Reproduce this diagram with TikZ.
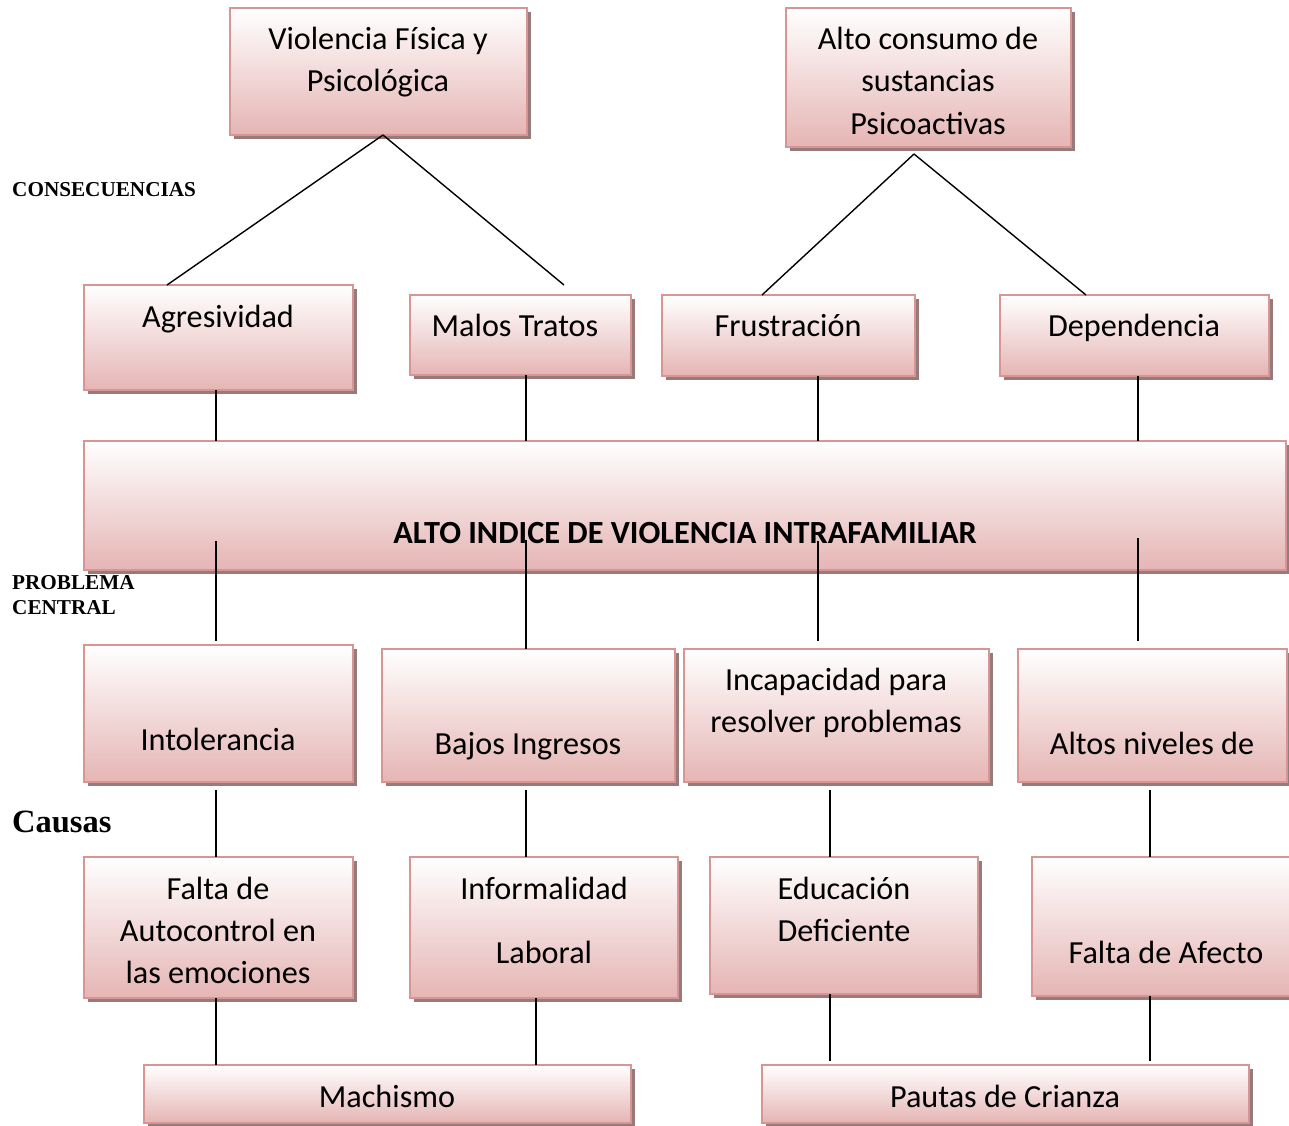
\documentclass[tikz,border=0pt]{standalone}
\usepackage{fontspec}
\setmainfont{Carlito}
\newfontfamily\labfont{Liberation Serif}
\usetikzlibrary{shadows}
\definecolor{boxline}{RGB}{217,149,148}
\definecolor{boxbot}{RGB}{229,181,180}
\definecolor{shadowcol}{RGB}{145,115,115}
\tikzset{
  box/.style={draw=boxline, line width=1.8pt, top color=white, bottom color=boxbot,
    inner sep=0pt, outer sep=0pt, anchor=north west,
    drop shadow={shadow xshift=4pt, shadow yshift=-4pt, fill=shadowcol, opacity=0.95}},
  txt/.style={anchor=base, inner sep=0pt, font=\fontsize{32.2}{42}\selectfont},
  lab/.style={anchor=base west, inner sep=0pt},
  conn/.style={draw=black, line width=1.4pt}
}
\begin{document}
\begin{tikzpicture}[x=1pt,y=-1pt]
\useasboundingbox (0,0) rectangle (1289,1125);
% boxes
\node[box, minimum width=297pt, minimum height=127pt] (viol) at (230,8) {};
\node[box, minimum width=285pt, minimum height=139pt] (alto) at (786,8) {};
\node[box, minimum width=269pt, minimum height=105pt] (agre) at (84,285) {};
\node[box, minimum width=221pt, minimum height=80pt] (malos) at (410,295) {};
\node[box, minimum width=253pt, minimum height=81pt] (frus) at (662,295) {};
\node[box, minimum width=269pt, minimum height=81pt] (dep) at (1000,295) {};
\node[box, minimum width=1202pt, minimum height=129pt] (central) at (84,441) {};
\node[box, minimum width=269pt, minimum height=137pt] (intol) at (84,645) {};
\node[box, minimum width=293pt, minimum height=133pt] (bajos) at (382,649) {};
\node[box, minimum width=305pt, minimum height=133pt] (incap) at (684,649) {};
\node[box, minimum width=269pt, minimum height=133pt] (altos) at (1018,649) {};
\node[box, minimum width=269pt, minimum height=141pt] (falta) at (84,857) {};
\node[box, minimum width=268pt, minimum height=141pt] (infor) at (410,857) {};
\node[box, minimum width=268pt, minimum height=137pt] (edu) at (710,857) {};
\node[box, minimum width=263pt, minimum height=139pt] (afecto) at (1032,857) {};
\node[box, minimum width=487pt, minimum height=58pt] (mach) at (144,1065) {};
\node[box, minimum width=487pt, minimum height=58pt] (paut) at (762,1065) {};
% texts
\node[txt] (t-viol1) at (378,49) {Violencia Física y};
\node[txt] (t-viol2) at (378,91) {Psicológica};
\node[txt] (t-alto1) at (928,49) {Alto consumo de};
\node[txt] (t-alto2) at (928,91) {sustancias};
\node[txt] (t-alto3) at (928,134) {Psicoactivas};
\node[txt] (t-agre) at (218,327) {Agresividad};
\node[txt] (t-malos) at (515,336) {Malos Tratos};
\node[txt] (t-frus) at (788,336) {Frustración};
\node[txt] (t-dep) at (1134,336) {Dependencia};
\node[txt, font=\fontsize{32.3}{42}\bfseries] (t-central) at (685,543) {ALTO INDICE DE VIOLENCIA INTRAFAMILIAR};
\node[txt] (t-intol) at (218,750) {Intolerancia};
\node[txt] (t-bajos) at (528,754) {Bajos Ingresos};
\node[txt] (t-incap1) at (836,690) {Incapacidad para};
\node[txt] (t-incap2) at (836,732) {resolver problemas};
\node[txt] (t-altos) at (1152,754) {Altos niveles de};
\node[txt] (t-falta1) at (218,899) {Falta de};
\node[txt] (t-falta2) at (218,941) {Autocontrol en};
\node[txt] (t-falta3) at (218,983) {las emociones};
\node[txt] (t-infor1) at (544,899) {Informalidad};
\node[txt] (t-infor2) at (544,963) {Laboral};
\node[txt] (t-edu1) at (844,899) {Educación};
\node[txt] (t-edu2) at (844,941) {Deficiente};
\node[txt] (t-afecto) at (1166,963) {Falta de Afecto};
\node[txt] (t-mach) at (387,1107) {Machismo};
\node[txt] (t-paut) at (1005,1107) {Pautas de Crianza};
% side labels
\node[lab, font=\labfont\bfseries\fontsize{21.2}{25}\selectfont] (l-cons) at (12,196) {CONSECUENCIAS};
\node[lab, font=\labfont\bfseries\fontsize{21.2}{25}\selectfont] (l-prob1) at (12,589) {PROBLEMA};
\node[lab, font=\labfont\bfseries\fontsize{21.2}{25}\selectfont] (l-prob2) at (12,614) {CENTRAL};
\node[lab, font=\labfont\bfseries\fontsize{32.5}{36}\selectfont] (l-caus) at (12,832) {Causas};
% coordinates
\coordinate (vpk) at (383,135);
\coordinate (vl) at (167,285);
\coordinate (vr) at (564,285);
\coordinate (apk) at (914,154);
\coordinate (al) at (762,295);
\coordinate (ar) at (1086,295);
\foreach \n/\x/\y in {c1/216/541, c2/526/540, c3/818/541, c4/1138/538}
  \coordinate (\n) at (\x,\y);
\foreach \n/\x/\y in {d1/216/641, d3/818/641, d4/1138/641}
  \coordinate (\n) at (\x,\y);
% connectors
\draw[conn] (vpk) -- (vl);
\draw[conn] (vpk) -- (vr);
\draw[conn] (apk) -- (al);
\draw[conn] (apk) -- (ar);
\draw[conn] (agre.south -| 216,0) -- (central.north -| 216,0);
\draw[conn] (malos.south -| 526,0) -- (central.north -| 526,0);
\draw[conn] (frus.south -| 818,0) -- (central.north -| 818,0);
\draw[conn] (dep.south -| 1138,0) -- (central.north -| 1138,0);
\draw[conn] (c1) -- (d1);
\draw[conn] (c2) -- (bajos.north -| c2);
\draw[conn] (c3) -- (d3);
\draw[conn] (c4) -- (d4);
\draw[conn] ([yshift=-8pt]intol.south -| 216,0) -- (falta.north -| 216,0);
\draw[conn] ([yshift=-8pt]bajos.south -| 526,0) -- (infor.north -| 526,0);
\draw[conn] ([yshift=-8pt]incap.south -| 830,0) -- (edu.north -| 830,0);
\draw[conn] ([yshift=-8pt]altos.south -| 1150,0) -- (afecto.north -| 1150,0);
\draw[conn] (falta.south -| 216,0) -- (mach.north -| 216,0);
\draw[conn] (infor.south -| 536,0) -- (mach.north -| 536,0);
\draw[conn] (edu.south -| 830,0) -- ([yshift=4pt]paut.north -| 830,0);
\draw[conn] (afecto.south -| 1150,0) -- ([yshift=4pt]paut.north -| 1150,0);
\end{tikzpicture}
\end{document}
